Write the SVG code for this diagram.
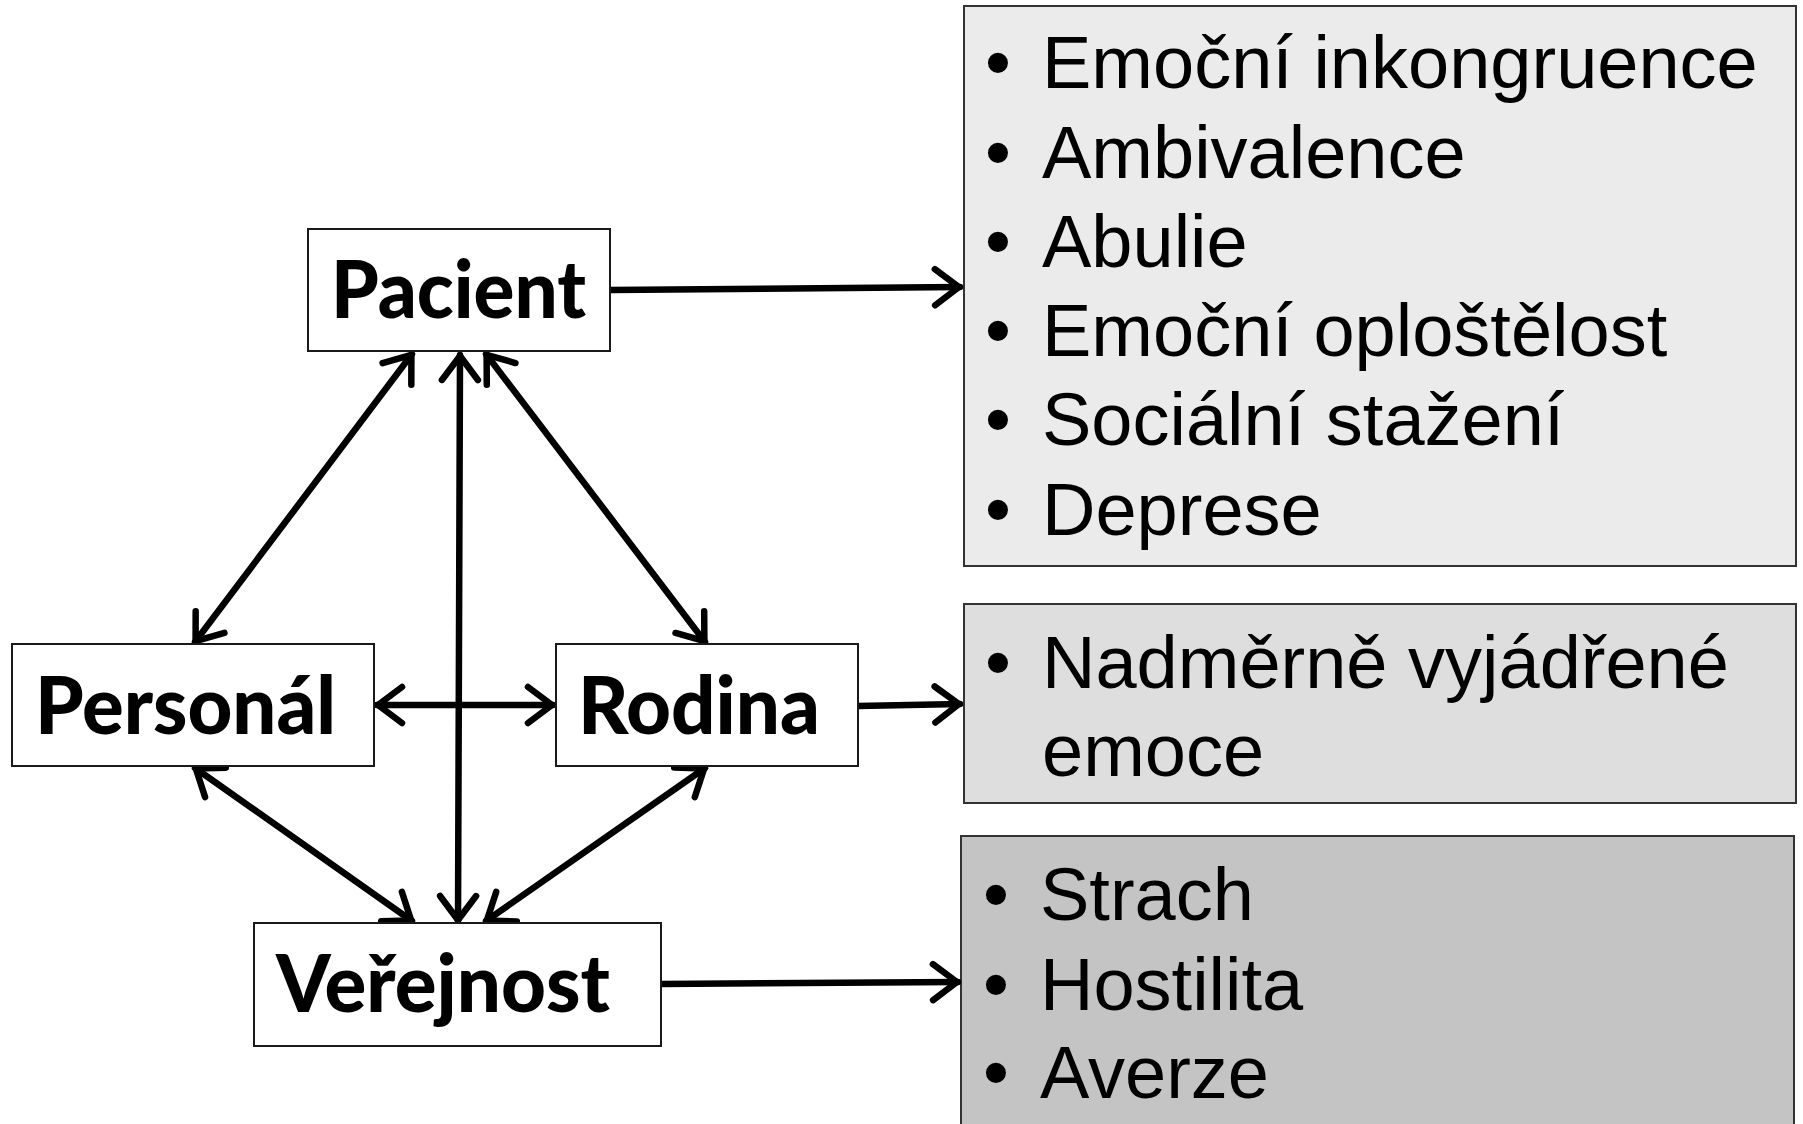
<svg xmlns="http://www.w3.org/2000/svg" width="1803" height="1124" viewBox="0 0 1803 1124">
<defs>
<style>
.node{fill:#ffffff;stroke:#1a1a1a;stroke-width:2}
.lbl{font-family:Lato,"Open Sans","Liberation Sans",sans-serif;font-weight:900;font-size:80px;fill:#000}
.list{font-family:"Liberation Sans",Arial,sans-serif;font-size:74px;fill:#000}
.box{stroke:#333333;stroke-width:2}
.con{stroke:#000;stroke-width:6.5;fill:none;stroke-linecap:round}
</style>
<marker id="ah" markerUnits="userSpaceOnUse" viewBox="-34 -24 38 48" refX="0" refY="0" markerWidth="38" markerHeight="48" orient="auto-start-reverse">
<path d="M-25,-18 L-1,0 L-25,18" fill="none" stroke="#000" stroke-width="6.5" stroke-linecap="round" stroke-linejoin="round"/>
</marker>
</defs>
<rect width="1803" height="1124" fill="#ffffff"/>

<g id="box-pacient-effects">
<rect class="box" x="964" y="6" width="832" height="560" fill="#ebebeb"/>
<text class="list" x="985" y="88">•</text><text class="list" x="1042" y="88">Emoční inkongruence</text>
<text class="list" x="985" y="178">•</text><text class="list" x="1042" y="178">Ambivalence</text>
<text class="list" x="985" y="267">•</text><text class="list" x="1042" y="267">Abulie</text>
<text class="list" x="985" y="356">•</text><text class="list" x="1042" y="356">Emoční oploštělost</text>
<text class="list" x="985" y="445">•</text><text class="list" x="1042" y="445">Sociální stažení</text>
<text class="list" x="985" y="535">•</text><text class="list" x="1042" y="535">Deprese</text>
</g>

<g id="box-rodina-effects">
<rect class="box" x="964" y="604" width="832" height="199" fill="#dedede"/>
<text class="list" x="985" y="688">•</text><text class="list" x="1042" y="688">Nadměrně vyjádřené</text>
<text class="list" x="1042" y="776">emoce</text>
</g>

<g id="box-verejnost-effects">
<rect class="box" x="961" y="836" width="833" height="300" fill="#c4c4c4"/>
<text class="list" x="983" y="920">•</text><text class="list" x="1040" y="920">Strach</text>
<text class="list" x="983" y="1010">•</text><text class="list" x="1040" y="1010">Hostilita</text>
<text class="list" x="983" y="1098">•</text><text class="list" x="1040" y="1098">Averze</text>
</g>

<g id="connectors">
<line class="con" x1="611" y1="290" x2="960" y2="287" marker-end="url(#ah)"/>
<line class="con" x1="858" y1="706" x2="960" y2="704" marker-end="url(#ah)"/>
<line class="con" x1="661" y1="984" x2="958" y2="982" marker-end="url(#ah)"/>
<line class="con" x1="412" y1="354" x2="195" y2="642" marker-start="url(#ah)" marker-end="url(#ah)"/>
<line class="con" x1="460" y1="355" x2="458" y2="921" marker-start="url(#ah)" marker-end="url(#ah)"/>
<line class="con" x1="486" y1="354" x2="705" y2="642" marker-start="url(#ah)" marker-end="url(#ah)"/>
<line class="con" x1="377" y1="705" x2="553" y2="705" marker-start="url(#ah)" marker-end="url(#ah)"/>
<line class="con" x1="195" y1="768" x2="412" y2="921" marker-start="url(#ah)" marker-end="url(#ah)"/>
<line class="con" x1="705" y1="768" x2="486" y2="921" marker-start="url(#ah)" marker-end="url(#ah)"/>
</g>

<g id="node-pacient">
<rect class="node" x="308" y="229" width="302" height="122"/>
<text class="lbl" x="331" y="318" textLength="255" lengthAdjust="spacingAndGlyphs">Pacient</text>
</g>
<g id="node-personal">
<rect class="node" x="12" y="644" width="362" height="122"/>
<text class="lbl" x="35" y="734" textLength="301" lengthAdjust="spacingAndGlyphs">Personál</text>
</g>
<g id="node-rodina">
<rect class="node" x="556" y="644" width="302" height="122"/>
<text class="lbl" x="578" y="734" textLength="242" lengthAdjust="spacingAndGlyphs">Rodina</text>
</g>
<g id="node-verejnost">
<rect class="node" x="254" y="923" width="407" height="123"/>
<text class="lbl" x="276" y="1012" textLength="334" lengthAdjust="spacingAndGlyphs">Veřejnost</text>
</g>
</svg>
